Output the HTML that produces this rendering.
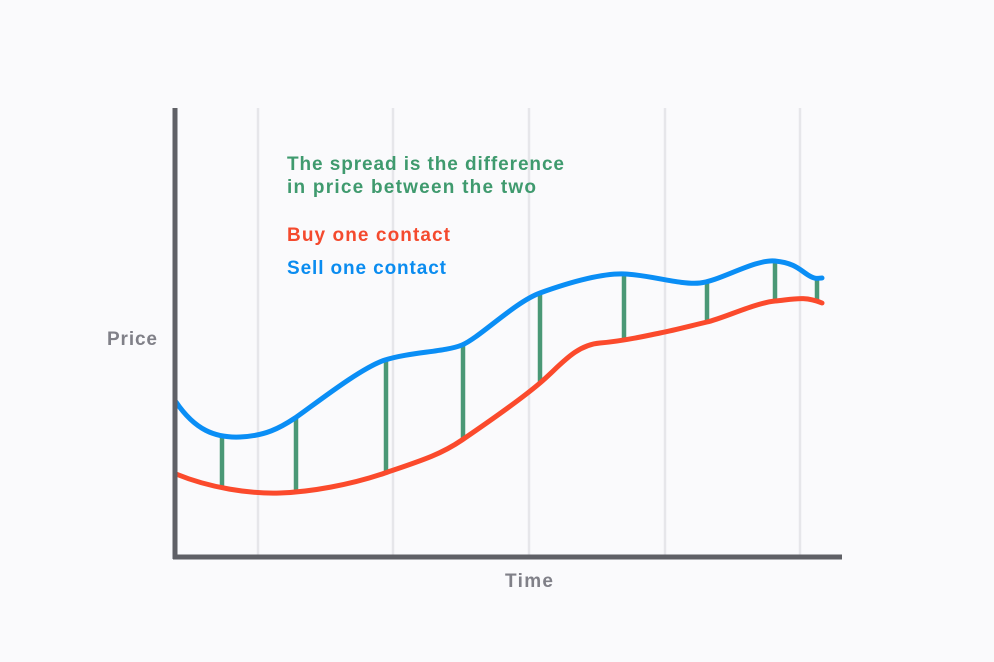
<!DOCTYPE html>
<html><head><style>
html,body{margin:0;padding:0;background:#fafafc;}
svg{display:block}
text{font-family:"Liberation Sans",sans-serif;font-weight:bold;}
</style></head><body>
<svg width="994" height="662" viewBox="0 0 994 662" xmlns="http://www.w3.org/2000/svg">
<rect width="994" height="662" fill="#fafafc"/>
<g stroke="#e6e6ea" stroke-width="2.5">
<line x1="258" y1="108" x2="258" y2="555"/>
<line x1="393" y1="108" x2="393" y2="555"/>
<line x1="529" y1="108" x2="529" y2="555"/>
<line x1="665" y1="108" x2="665" y2="555"/>
<line x1="800" y1="108" x2="800" y2="555"/>
</g>
<g stroke="#4a9876" stroke-width="4.5">
<line x1="222" y1="438" x2="222" y2="487"/>
<line x1="296" y1="418" x2="296" y2="492"/>
<line x1="386" y1="361" x2="386" y2="473"/>
<line x1="463" y1="346" x2="463" y2="440"/>
<line x1="540" y1="294" x2="540" y2="383"/>
<line x1="624" y1="275" x2="624" y2="340"/>
<line x1="707" y1="283" x2="707" y2="322"/>
<line x1="775" y1="262" x2="775" y2="300"/>
<line x1="817" y1="278" x2="817" y2="303"/>
</g>
<path d="M176,402 C195,430 215,438 240,437 S280,428 295,418 S360,368 385,360 S445,352 462,345 S515,302 540,293 S600,273 625,274 S680,285 700,283 S755,259 775,261 S800,270 808,275 S818,278 822,278" fill="none" stroke="#0a8ef5" stroke-width="5" stroke-linecap="round"/>
<path d="M176,474 C210,488 250,494 280,493 S350,485 385,473 S440,455 462,440 S520,400 540,383 S575,345 600,343 S645,336 660,333 S690,326 707,322 S755,303 775,301 S805,296 822,303" fill="none" stroke="#fb4a2c" stroke-width="5" stroke-linecap="round"/>
<line x1="175" y1="108" x2="175" y2="559" stroke="#5f6066" stroke-width="5"/>
<line x1="173" y1="557" x2="842" y2="557" stroke="#5f6066" stroke-width="5"/>
<text x="287" y="170" font-size="19" fill="#3f9a6e" textLength="277" lengthAdjust="spacing">The spread is the difference</text>
<text x="287" y="193" font-size="19" fill="#3f9a6e" textLength="249" lengthAdjust="spacing">in price between the two</text>
<text x="287" y="241" font-size="19" fill="#f44a2e" textLength="163" lengthAdjust="spacing">Buy one contact</text>
<text x="287" y="274" font-size="19" fill="#0a8cf0" textLength="159" lengthAdjust="spacing">Sell one contact</text>
<text x="107" y="345" font-size="19" fill="#808088" textLength="50" lengthAdjust="spacing">Price</text>
<text x="505" y="587" font-size="19" fill="#808088" textLength="48" lengthAdjust="spacing">Time</text>
</svg>
</body></html>
